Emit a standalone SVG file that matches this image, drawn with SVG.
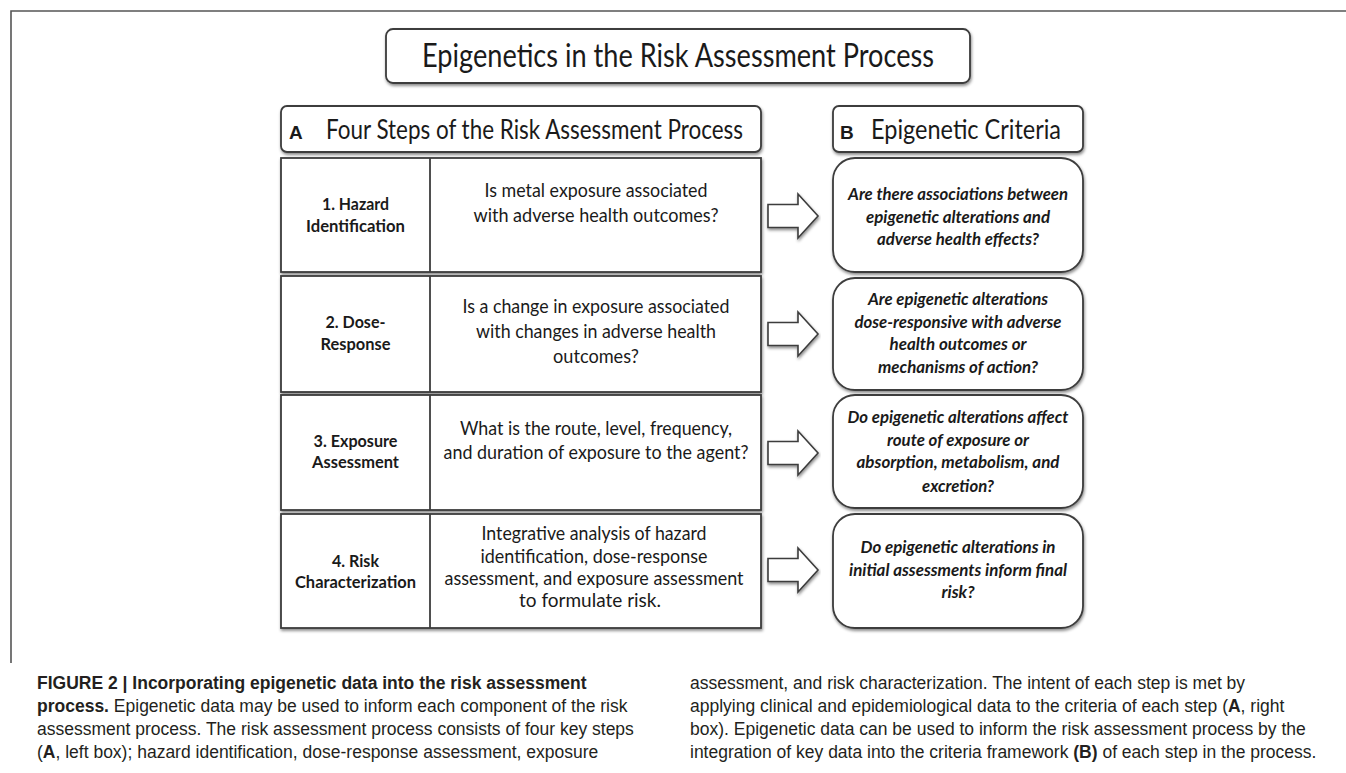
<svg xmlns="http://www.w3.org/2000/svg" width="1346" height="773" viewBox="0 0 1346 773">
<style>
.bx{fill:#fff;stroke:#3c3c3c;stroke-width:1.8;filter:url(#sh)}
.ln{stroke:#3c3c3c;stroke-width:1.8;fill:none}
.ar{fill:#fff;stroke:#3c3c3c;stroke-width:1.6;stroke-linejoin:miter;filter:url(#sh)}
.fr{stroke:#555;stroke-width:1.6;fill:none}
.cal{font-family:Lato,"Open Sans",sans-serif;fill:#1a1a1a;text-anchor:middle}
.lb{font-size:17.5px;font-weight:bold}
.md{font-size:19px}
.rt{font-size:17px;font-weight:bold;font-style:italic}
.cap{font-family:"Liberation Sans",Arial,sans-serif;font-size:17.5px;fill:#231f20}
.b{font-weight:bold}
</style>
<defs>
<filter id="sh" x="-5%" y="-5%" width="110%" height="120%">
<feDropShadow dx="0.8" dy="2" stdDeviation="1.4" flood-color="#000" flood-opacity="0.45"/>
</filter>
</defs>
<rect width="1346" height="773" fill="#fff"/>
<g id="frame">
<path class="fr" d="M11,663 V11 H1346"/>
</g>
<g id="title">
<rect class="bx" x="386" y="29" width="584" height="54" rx="7"/>
<text class="cal" x="678" y="67" font-size="33" textLength="512" lengthAdjust="spacingAndGlyphs">Epigenetics in the Risk Assessment Process</text>
</g>
<g id="headerA">
<rect class="bx" x="281" y="106" width="480" height="46" rx="6"/>
<text x="289" y="139" font-family="Liberation Sans,Arial,sans-serif" font-weight="bold" font-size="19" fill="#1a1a1a">A</text>
<text class="cal" x="534.5" y="139" font-size="27" textLength="417" lengthAdjust="spacingAndGlyphs">Four Steps of the Risk Assessment Process</text>
</g>
<g id="headerB">
<rect class="bx" x="833" y="106" width="250" height="46" rx="6"/>
<text x="840" y="139" font-family="Liberation Sans,Arial,sans-serif" font-weight="bold" font-size="19" fill="#1a1a1a">B</text>
<text class="cal" x="966" y="139" font-size="27" textLength="190" lengthAdjust="spacingAndGlyphs">Epigenetic Criteria</text>
</g>
<g id="step1">
<rect class="bx" x="281" y="158" width="480" height="114"/>
<line class="ln" x1="430" y1="158" x2="430" y2="272"/>
<text class="cal lb" x="355.5" y="210" textLength="67" lengthAdjust="spacingAndGlyphs">1. Hazard</text>
<text class="cal lb" x="355.5" y="232" textLength="99" lengthAdjust="spacingAndGlyphs">Identification</text>
<text class="cal md" x="596" y="197" textLength="223" lengthAdjust="spacingAndGlyphs">Is metal exposure associated</text>
<text class="cal md" x="596" y="222" textLength="245" lengthAdjust="spacingAndGlyphs">with adverse health outcomes?</text>
</g>
<g id="step2">
<rect class="bx" x="281" y="276" width="480" height="116"/>
<line class="ln" x1="430" y1="276" x2="430" y2="392"/>
<text class="cal lb" x="355.5" y="328" textLength="60" lengthAdjust="spacingAndGlyphs">2. Dose-</text>
<text class="cal lb" x="355.5" y="350" textLength="70" lengthAdjust="spacingAndGlyphs">Response</text>
<text class="cal md" x="596" y="313" textLength="267" lengthAdjust="spacingAndGlyphs">Is a change in exposure associated</text>
<text class="cal md" x="596" y="338" textLength="240" lengthAdjust="spacingAndGlyphs">with changes in adverse health</text>
<text class="cal md" x="596" y="363" textLength="86" lengthAdjust="spacingAndGlyphs">outcomes?</text>
</g>
<g id="step3">
<rect class="bx" x="281" y="395" width="480" height="115"/>
<line class="ln" x1="430" y1="395" x2="430" y2="510"/>
<text class="cal lb" x="355.5" y="447" textLength="84" lengthAdjust="spacingAndGlyphs">3. Exposure</text>
<text class="cal lb" x="355.5" y="468" textLength="87" lengthAdjust="spacingAndGlyphs">Assessment</text>
<text class="cal md" x="596" y="435" textLength="272" lengthAdjust="spacingAndGlyphs">What is the route, level, frequency,</text>
<text class="cal md" x="596" y="459" textLength="305" lengthAdjust="spacingAndGlyphs">and duration of exposure to the agent?</text>
</g>
<g id="step4">
<rect class="bx" x="281" y="514" width="480" height="114"/>
<line class="ln" x1="430" y1="514" x2="430" y2="628"/>
<text class="cal lb" x="355.5" y="567" textLength="47" lengthAdjust="spacingAndGlyphs">4. Risk</text>
<text class="cal lb" x="355.5" y="588" textLength="121" lengthAdjust="spacingAndGlyphs">Characterization</text>
<text class="cal md" x="594" y="540" textLength="225" lengthAdjust="spacingAndGlyphs">Integrative analysis of hazard</text>
<text class="cal md" x="594" y="563" textLength="227" lengthAdjust="spacingAndGlyphs">identification, dose-response</text>
<text class="cal md" x="594" y="585" textLength="299" lengthAdjust="spacingAndGlyphs">assessment, and exposure assessment</text>
<text class="cal md" x="590" y="607" textLength="142" lengthAdjust="spacingAndGlyphs">to formulate risk.</text>
</g>
<g id="connectors">
<path class="ar" d="M768,204.5 H798 V194 L818,216 L798,238 V227.5 H768 Z"/>
<path class="ar" d="M768,322.5 H798 V312 L818,334 L798,356 V345.5 H768 Z"/>
<path class="ar" d="M768,441.5 H798 V431 L818,453 L798,475 V464.5 H768 Z"/>
<path class="ar" d="M768,558.5 H798 V548 L818,570 L798,592 V581.5 H768 Z"/>
</g>
<g id="criteria1">
<rect class="bx" x="833" y="158" width="250" height="114" rx="22"/>
<text class="cal rt" x="958" y="200" textLength="220" lengthAdjust="spacingAndGlyphs">Are there associations between</text>
<text class="cal rt" x="958" y="223" textLength="184" lengthAdjust="spacingAndGlyphs">epigenetic alterations and</text>
<text class="cal rt" x="958" y="245" textLength="162" lengthAdjust="spacingAndGlyphs">adverse health effects?</text>
</g>
<g id="criteria2">
<rect class="bx" x="833" y="278" width="250" height="112" rx="22"/>
<text class="cal rt" x="958" y="305" textLength="180" lengthAdjust="spacingAndGlyphs">Are epigenetic alterations</text>
<text class="cal rt" x="958" y="328" textLength="207" lengthAdjust="spacingAndGlyphs">dose-responsive with adverse</text>
<text class="cal rt" x="958" y="350" textLength="137" lengthAdjust="spacingAndGlyphs">health outcomes or</text>
<text class="cal rt" x="958" y="373" textLength="160" lengthAdjust="spacingAndGlyphs">mechanisms of action?</text>
</g>
<g id="criteria3">
<rect class="bx" x="833" y="395" width="250" height="113" rx="22"/>
<text class="cal rt" x="958" y="423" textLength="221" lengthAdjust="spacingAndGlyphs">Do epigenetic alterations affect</text>
<text class="cal rt" x="958" y="446" textLength="142" lengthAdjust="spacingAndGlyphs">route of exposure or</text>
<text class="cal rt" x="958" y="468" textLength="203" lengthAdjust="spacingAndGlyphs">absorption, metabolism, and</text>
<text class="cal rt" x="958" y="492" textLength="72" lengthAdjust="spacingAndGlyphs">excretion?</text>
</g>
<g id="criteria4">
<rect class="bx" x="833" y="514" width="250" height="114" rx="22"/>
<text class="cal rt" x="958" y="553" textLength="195" lengthAdjust="spacingAndGlyphs">Do epigenetic alterations in</text>
<text class="cal rt" x="958" y="576" textLength="218" lengthAdjust="spacingAndGlyphs">initial assessments inform final</text>
<text class="cal rt" x="958" y="598" textLength="33" lengthAdjust="spacingAndGlyphs">risk?</text>
</g>
<g id="caption">
<text class="cap b" x="37" y="689">FIGURE 2 | Incorporating epigenetic data into the risk assessment</text>
<text class="cap" x="37" y="712"><tspan class="b">process.</tspan> Epigenetic data may be used to inform each component of the risk</text>
<text class="cap" x="37" y="735">assessment process. The risk assessment process consists of four key steps</text>
<text class="cap" x="37" y="758">(<tspan class="b">A</tspan>, left box); hazard identification, dose-response assessment, exposure</text>
<text class="cap" x="690" y="689">assessment, and risk characterization. The intent of each step is met by</text>
<text class="cap" x="690" y="712">applying clinical and epidemiological data to the criteria of each step (<tspan class="b">A</tspan>, right</text>
<text class="cap" x="690" y="735">box). Epigenetic data can be used to inform the risk assessment process by the</text>
<text class="cap" x="690" y="758">integration of key data into the criteria framework <tspan class="b">(B)</tspan> of each step in the process.</text>
</g>
</svg>
